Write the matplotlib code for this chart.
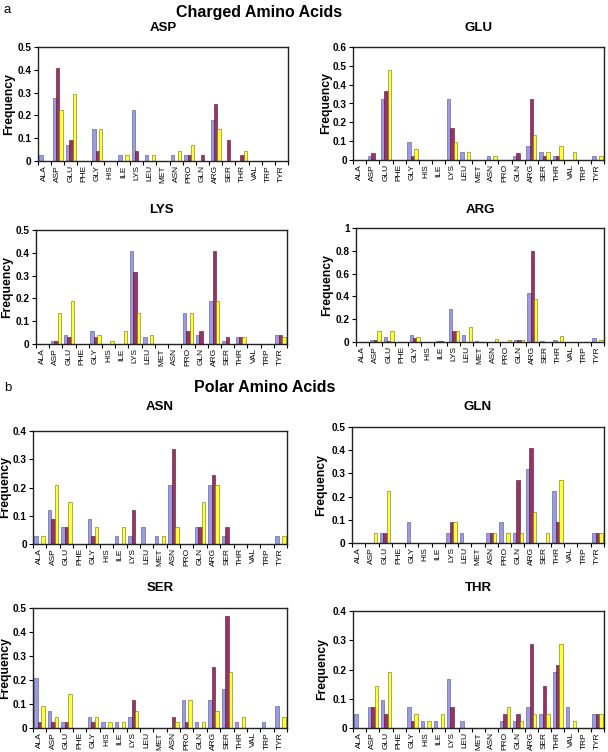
import matplotlib
matplotlib.use("Agg")
import matplotlib.pyplot as plt
import numpy as np
from matplotlib.ticker import FixedLocator, FuncFormatter

plt.rcParams['font.family'] = ['Liberation Sans', 'DejaVu Sans']

residues = ["ALA", "ASP", "GLU", "PHE", "GLY", "HIS", "ILE", "LYS", "LEU", "MET",
            "ASN", "PRO", "GLN", "ARG", "SER", "THR", "VAL", "TRP", "TYR"]

# ---- Charged amino acids ----
asp_blue   = [0.025, 0.275, 0.07, 0, 0.14, 0, 0.025, 0.225, 0.025, 0, 0.025, 0.025, 0, 0.18, 0, 0, 0, 0, 0]
asp_red    = [0, 0.41, 0.09, 0, 0.045, 0, 0, 0.045, 0, 0, 0, 0.025, 0.025, 0.25, 0.09, 0.025, 0, 0, 0]
asp_yellow = [0, 0.225, 0.295, 0, 0.14, 0, 0.025, 0, 0.025, 0, 0.045, 0.07, 0, 0.14, 0, 0.045, 0, 0, 0]

glu_blue   = [0, 0.02, 0.325, 0, 0.095, 0, 0, 0.325, 0.04, 0, 0.02, 0, 0.02, 0.075, 0.04, 0.02, 0, 0, 0.02]
glu_red    = [0, 0.035, 0.365, 0, 0.02, 0, 0, 0.17, 0, 0, 0, 0, 0.035, 0.325, 0.02, 0.02, 0, 0, 0]
glu_yellow = [0, 0, 0.48, 0, 0.06, 0, 0, 0.095, 0.04, 0, 0.02, 0, 0, 0.135, 0.04, 0.075, 0.04, 0, 0.02]

lys_blue   = [0, 0.015, 0.04, 0, 0.055, 0, 0, 0.41, 0.03, 0, 0, 0.135, 0.04, 0.19, 0.015, 0.03, 0, 0, 0.04]
lys_red    = [0, 0.015, 0.03, 0, 0.03, 0, 0, 0.315, 0, 0, 0, 0.055, 0.055, 0.41, 0.03, 0.03, 0, 0, 0.04]
lys_yellow = [0, 0.135, 0.19, 0, 0.04, 0.015, 0.055, 0.135, 0.04, 0, 0, 0.135, 0, 0.19, 0, 0.03, 0, 0, 0.03]

arg_blue   = [0, 0.02, 0.045, 0, 0.06, 0, 0.01, 0.29, 0.06, 0.01, 0, 0, 0.02, 0.43, 0.01, 0.02, 0, 0, 0.035]
arg_red    = [0, 0.02, 0.01, 0, 0.035, 0, 0.01, 0.1, 0, 0, 0, 0, 0.02, 0.8, 0, 0, 0, 0, 0]
arg_yellow = [0, 0.095, 0.095, 0, 0.045, 0, 0, 0.1, 0.135, 0, 0.03, 0.02, 0.02, 0.38, 0, 0.05, 0, 0, 0.02]

# ---- Polar amino acids ----
asn_blue   = [0.03, 0.12, 0.06, 0, 0.09, 0, 0.03, 0.03, 0.06, 0.03, 0.21, 0, 0.06, 0.21, 0.03, 0, 0, 0, 0.03]
asn_red    = [0, 0.09, 0.06, 0, 0.03, 0, 0, 0.12, 0, 0, 0.335, 0, 0.06, 0.245, 0.06, 0, 0, 0, 0]
asn_yellow = [0.03, 0.21, 0.15, 0, 0.06, 0, 0.06, 0, 0, 0.03, 0.06, 0, 0.15, 0.21, 0, 0, 0, 0, 0.03]

gln_blue   = [0, 0, 0.045, 0, 0.09, 0, 0, 0.045, 0.045, 0, 0.045, 0.09, 0.045, 0.32, 0, 0.225, 0, 0, 0.045]
gln_red    = [0, 0, 0.045, 0, 0, 0, 0, 0.09, 0, 0, 0.045, 0, 0.27, 0.41, 0, 0.09, 0, 0, 0.045]
gln_yellow = [0, 0.045, 0.225, 0, 0, 0, 0, 0.09, 0, 0, 0.045, 0.045, 0.045, 0.135, 0.045, 0.27, 0, 0, 0.045]

ser_blue   = [0.21, 0.07, 0.023, 0, 0.047, 0.023, 0.023, 0.047, 0, 0, 0, 0.116, 0.023, 0.116, 0.163, 0.023, 0, 0.023, 0.093]
ser_red    = [0.023, 0.023, 0.023, 0, 0.023, 0, 0, 0.116, 0, 0, 0.047, 0.023, 0, 0.256, 0.465, 0, 0, 0, 0]
ser_yellow = [0.093, 0.047, 0.14, 0, 0.047, 0.023, 0.023, 0.07, 0, 0, 0.023, 0.116, 0.023, 0.07, 0.233, 0.047, 0, 0, 0.047]

thr_blue   = [0.048, 0.071, 0.095, 0, 0.071, 0.024, 0.024, 0.167, 0.024, 0, 0, 0.024, 0.024, 0.071, 0.048, 0.19, 0.071, 0, 0.048]
thr_red    = [0, 0.071, 0.048, 0, 0.024, 0, 0, 0.071, 0, 0, 0, 0.048, 0.048, 0.286, 0.143, 0.214, 0, 0, 0.048]
thr_yellow = [0, 0.143, 0.19, 0, 0.048, 0.024, 0.048, 0, 0, 0, 0, 0.071, 0.024, 0.048, 0.048, 0.286, 0.024, 0, 0.048]

# (name, series..., ymax, step, axes box px (left, right, top, bottom), title y px, ylabel center x px)
panels = [
    ("ASP", asp_blue, asp_red, asp_yellow, 0.5, 0.1, (38, 288, 47, 161), 28, 10),
    ("GLU", glu_blue, glu_red, glu_yellow, 0.6, 0.1, (353, 604, 47, 160), 28, 327),
    ("LYS", lys_blue, lys_red, lys_yellow, 0.5, 0.1, (36, 287, 230, 344), 210, 8),
    ("ARG", arg_blue, arg_red, arg_yellow, 1.0, 0.2, (356, 604, 228, 342), 210, 328),
    ("ASN", asn_blue, asn_red, asn_yellow, 0.4, 0.1, (33, 287, 431, 544), 407, 6),
    ("GLN", gln_blue, gln_red, gln_yellow, 0.5, 0.1, (352, 604, 427, 543), 407, 322),
    ("SER", ser_blue, ser_red, ser_yellow, 0.5, 0.1, (33, 287, 608, 728), 588, 6),
    ("THR", thr_blue, thr_red, thr_yellow, 0.4, 0.1, (353, 604, 611, 728), 588, 323),
]

W, H = 608, 752
fig = plt.figure(figsize=(W / 100, H / 100), dpi=100)

colors = ["#9a9ae6", "#993366", "#ffff33"]
edges = ["#555577", "#4a1530", "#6b6b20"]
bw = 0.26
x = np.arange(len(residues))

def fmt(v, pos):
    if abs(v) < 1e-9:
        return "0"
    s = ("%.1f" % v)
    if s.endswith(".0"):
        s = s[:-2]
    return s

for name, b, r, yv, ymax, step, (l, rgt, t, bot), ty, lx in panels:
    ax = fig.add_axes([l / W, 1 - bot / H, (rgt - l) / W, (bot - t) / H])
    for i, (vals, c, e) in enumerate(zip([b, r, yv], colors, edges)):
        ax.bar(x + (i - 1) * bw, vals, width=bw, color=c, edgecolor=e, linewidth=0.4)
    ax.set_xlim(-0.5, len(residues) - 0.5)
    ax.set_ylim(0, ymax)
    ax.yaxis.set_major_locator(FixedLocator(np.arange(0, ymax + step / 2, step)))
    ax.yaxis.set_major_formatter(FuncFormatter(fmt))
    ax.set_xticks(x)
    ax.set_xticklabels(residues, rotation=90, fontsize=6)
    ax.xaxis.set_minor_locator(FixedLocator(np.arange(-0.5, len(residues), 1.0)))
    ax.tick_params(axis='x', which='major', length=0, pad=3)
    ax.tick_params(axis='x', which='minor', length=3, width=0.8, direction='out')
    ax.tick_params(axis='y', which='major', length=3, width=0.8, labelsize=7.2, pad=1.5)
    for lab in ax.get_yticklabels():
        lab.set_fontweight('bold')
    for sp in ax.spines.values():
        sp.set_linewidth(1.0)
        sp.set_color('#222222')
    ax.set_ylabel("Frequency", fontsize=8.8, fontweight='bold')
    # place label centre at a fixed pixel column (right edge of rotated text = centre + ~5px)
    ax.yaxis.set_label_coords((lx + 5 - l) / (rgt - l), 0.5)
    fig.text((l + rgt) / 2 / W, 1 - ty / H, name, ha='center', va='center',
             fontsize=9.5, fontweight='bold')

fig.text(259 / W, 1 - 13 / H, "Charged Amino Acids", ha='center', va='center',
         fontsize=11.5, fontweight='bold')
fig.text(265 / W, 1 - 387 / H, "Polar Amino Acids", ha='center', va='center',
         fontsize=11.5, fontweight='bold')
fig.text(4 / W, 1 - 10 / H, "a", ha='left', va='center', fontsize=9.5)
fig.text(4 / W, 1 - 388 / H, "b", ha='left', va='center', fontsize=9.5)

fig.savefig("out.png", dpi=100)
